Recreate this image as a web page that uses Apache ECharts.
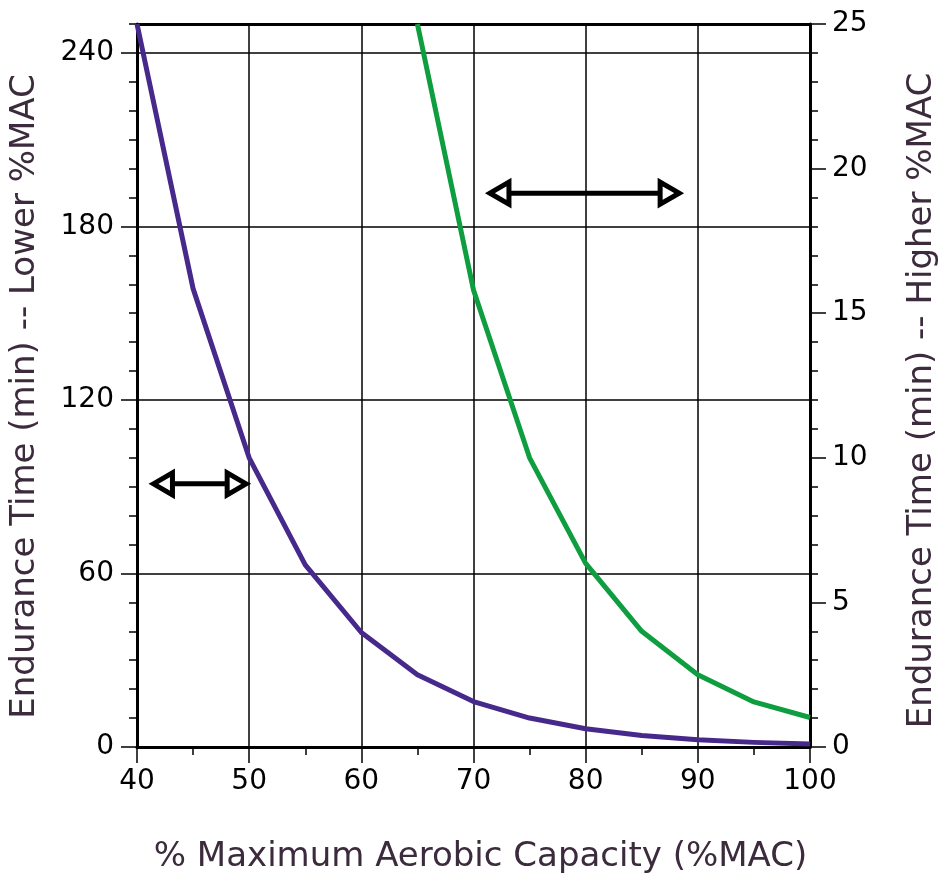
<!DOCTYPE html>
<html>
<head>
<meta charset="utf-8">
<style>
  html, body { margin: 0; padding: 0; background: #fff; }
  #chart { width: 939px; height: 875px; }
</style>
<script src="https://cdn.jsdelivr.net/npm/echarts@6/dist/echarts.min.js"></script>
</head>
<body>
<div id="chart"></div>
<script>
// ---- data ----
const lowerMAC = [40, 45, 50, 55, 60, 65, 70, 75, 80, 85, 90, 95, 100];
const lowerTime = [250, 158.5, 100, 63, 39.6, 25, 15.7, 10, 6.3, 4, 2.5, 1.6, 1.0];
const higherMAC = [65, 70, 75, 80, 85, 90, 95, 100];
const higherTime = [25, 15.8, 10, 6.35, 4, 2.5, 1.56, 1.02];
// double arrows: [start %MAC, end %MAC, left-axis value]
const arrowStart = [41.2, 71.2];
const arrowEnd = [50, 88.6];
const arrowLevel = [91, 191.5];
const leftTickLabels = [0, 60, 120, 180, 240];

const FONT = 'DejaVu Sans';
const TITLE_COLOR = '#3b2b3c';

const chart = echarts.init(document.getElementById('chart'), null, { renderer: 'canvas' });

const arrowData = arrowStart.map((s, i) => [s, arrowEnd[i], arrowLevel[i]]);

const option = {
  animation: false,
  backgroundColor: '#fff',
  grid: { left: 137, right: 129, top: 24, bottom: 128, containLabel: false, outerBoundsMode: 'none' },
  xAxis: [
    {
      type: 'value', position: 'bottom', min: 40, max: 100, interval: 10,
      axisLine: { show: true, onZero: false, lineStyle: { color: '#000', width: 3 } },
      axisTick: { show: true, length: 16, lineStyle: { color: '#000', width: 1.5 } },
      minorTick: { show: true, splitNumber: 2, length: 8, lineStyle: { color: '#000', width: 1.5 } },
      splitLine: { show: true, lineStyle: { color: '#000', width: 1.5 } },
      axisLabel: { fontFamily: FONT, fontSize: 28, color: '#000', margin: 21 },
      name: '% Maximum Aerobic Capacity (%MAC)',
      nameLocation: 'middle', nameGap: 93,
      nameTextStyle: { fontFamily: FONT, fontSize: 34, color: TITLE_COLOR, padding: [0, 0, 0, 14] }
    },
    {
      type: 'value', position: 'top', min: 40, max: 100, interval: 10,
      axisLine: { show: true, onZero: false, lineStyle: { color: '#000', width: 3 } },
      axisTick: { show: false }, axisLabel: { show: false }, splitLine: { show: false }
    }
  ],
  yAxis: [
    {
      type: 'value', position: 'left', min: 0, max: 250, interval: 10,
      axisLine: { show: true, onZero: false, lineStyle: { color: '#000', width: 3 } },
      axisTick: { show: true, length: 8, lineStyle: { color: '#000', width: 1.5 } },
      axisLabel: { show: false }, splitLine: { show: false }
    },
    {
      type: 'value', position: 'left', min: 0, max: 250, interval: 60,
      axisLine: { show: false },
      axisTick: { show: true, length: 16, customValues: leftTickLabels, lineStyle: { color: '#000', width: 1.5 } },
      axisLabel: { fontFamily: FONT, fontSize: 28, color: '#000', margin: 23, customValues: leftTickLabels },
      splitLine: { show: true, lineStyle: { color: '#000', width: 1.5 } },
      name: 'Endurance Time (min) -- Lower %MAC',
      nameLocation: 'middle', nameGap: 95,
      nameTextStyle: { fontFamily: FONT, fontSize: 34, color: TITLE_COLOR, padding: [0, 22, 0, 0] }
    },
    {
      type: 'value', position: 'right', min: 0, max: 25, interval: 5,
      axisLine: { show: true, onZero: false, lineStyle: { color: '#000', width: 3 } },
      axisTick: { show: true, length: 16, lineStyle: { color: '#000', width: 1.5 } },
      minorTick: { show: true, splitNumber: 5, length: 8, lineStyle: { color: '#000', width: 1.5 } },
      axisLabel: { fontFamily: FONT, fontSize: 28, color: '#000', margin: 22 },
      splitLine: { show: false },
      name: 'Endurance Time (min) -- Higher %MAC',
      nameLocation: 'middle', nameGap: 95,
      nameTextStyle: { fontFamily: FONT, fontSize: 34, color: TITLE_COLOR, padding: [0, 30, 0, 0] }
    }
  ],
  series: [
    {
      type: 'line', xAxisIndex: 0, yAxisIndex: 0,
      data: lowerMAC.map((x, i) => [x, lowerTime[i]]),
      showSymbol: false, symbol: 'none',
      lineStyle: { color: '#46298b', width: 5, join: 'round' },
      itemStyle: { color: '#46298b' }, z: 5
    },
    {
      type: 'line', xAxisIndex: 0, yAxisIndex: 2,
      data: higherMAC.map((x, i) => [x, higherTime[i]]),
      showSymbol: false, symbol: 'none',
      lineStyle: { color: '#0e9e40', width: 5, join: 'round' },
      itemStyle: { color: '#0e9e40' }, z: 5
    },
    {
      type: 'custom', xAxisIndex: 0, yAxisIndex: 0, z: 6, clip: false,
      encode: { x: [0, 1], y: 2 },
      data: arrowData,
      renderItem: function (params, api) {
        const a = api.coord([api.value(0), api.value(2)]);
        const b = api.coord([api.value(1), api.value(2)]);
        const y = a[1];
        const x1 = a[0] + 3, x2 = b[0] - 3;
        const len = 19, hh = 11;
        const style = { fill: '#fff', stroke: '#000', lineWidth: 5, lineJoin: 'miter' };
        return {
          type: 'group',
          children: [
            { type: 'line', shape: { x1: x1 + len, y1: y, x2: x2 - len, y2: y },
              style: { stroke: '#000', lineWidth: 5 } },
            { type: 'polygon', shape: { points: [[x1, y], [x1 + len, y - hh], [x1 + len, y + hh]] }, style: style },
            { type: 'polygon', shape: { points: [[x2, y], [x2 - len, y - hh], [x2 - len, y + hh]] }, style: style }
          ]
        };
      }
    }
  ]
};

chart.setOption(option);
</script>
</body>
</html>
